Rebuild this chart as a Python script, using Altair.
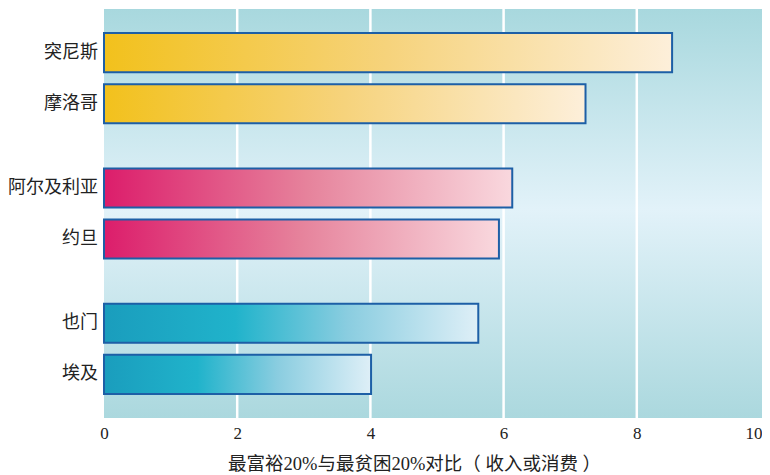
import altair as alt
import pandas as pd

countries = ["突尼斯", "摩洛哥", "阿尔及利亚", "约旦", "也门", "埃及"]
values = [8.53, 7.23, 6.13, 5.93, 5.62, 4.01]
groups = ["g1", "g1", "g2", "g2", "g3", "g3"]
slots = ["a", "b", "a", "b", "a", "b"]
x_ticks = [0, 2, 4, 6, 8, 9.88]
grid_vals = [2, 4, 6, 8]

df = pd.DataFrame({"country": countries, "value": values, "group": groups, "slot": slots})
grid_df = pd.DataFrame({"value": grid_vals})

SERIF = "Liberation Serif, Noto Sans CJK SC"

x_scale = alt.Scale(domain=[0, 9.88], nice=False, zero=True)
y_enc = alt.Y("group:N", scale=alt.Scale(domain=["g1", "g2", "g3"], paddingInner=0.333, paddingOuter=0.178), axis=None)
yoff_enc = alt.YOffset("slot:N", scale=alt.Scale(domain=["a", "b"], paddingInner=0.235, paddingOuter=0))

def grad(stops, vertical=False):
    return alt.Gradient(gradient="linear", x1=0, y1=0, x2=0 if vertical else 1, y2=1 if vertical else 0,
                        stops=[alt.GradientStop(offset=o, color=c) for o, c in stops])

yellow = grad([(0, "#F2C11C"), (0.5, "#F6D37C"), (1, "#FDEFDA")])
pink = grad([(0, "#DC1D6B"), (0.5, "#E6839C"), (1, "#F9D8DE")])
teal = grad([(0, "#1A9DBD"), (0.35, "#20B3CB"), (0.65, "#8ACDE0"), (1, "#DEEFF7")])
bg = grad([(0, "#A8D8DE"), (0.49, "#E2F2F9"), (1, "#ABD8DE")], vertical=True)

x_axis = alt.Axis(values=x_ticks,
                  labelExpr="datum.value > 9 ? '10' : format(datum.value, 'd')",
                  labelAlign=alt.ExprRef("datum.value > 9 ? 'right' : 'center'"),
                  labelFlush=False,
                  title="最富裕20%与最贫困20%对比（ 收入或消费 ）",
                  ticks=False, domain=False, grid=False,
                  labelFont=SERIF, labelFontSize=17, labelColor="#222222",
                  labelPadding=7, titleFont=SERIF, titleFontSize=18.5,
                  titleFontWeight="normal", titleColor="#222222", titlePadding=13,
                  titleX=310)
x_enc = alt.X("value:Q", scale=x_scale, axis=x_axis)

background = alt.Chart(alt.Data(values=[{"k": 1}])).mark_rect(fill=bg).encode(
    x=alt.value(0), x2=alt.value("width"), y=alt.value(0), y2=alt.value("height")
)

grid = alt.Chart(grid_df).mark_rule(color="white", strokeWidth=2.5).encode(x=x_enc)

def bars(g, fill):
    return alt.Chart(df).transform_filter(alt.datum.group == g).mark_bar(
        fill=fill, stroke="#1D5FA6", strokeWidth=2
    ).encode(x=x_enc, y=y_enc, yOffset=yoff_enc)

labels = alt.Chart(df).mark_text(align="right", baseline="middle", dx=-6,
                                 font=SERIF, fontSize=18, color="#222222").encode(
    x=alt.datum(0, scale=x_scale), y=y_enc, yOffset=yoff_enc, text="country:N"
)

chart = alt.layer(background, grid, bars("g1", yellow), bars("g2", pink), bars("g3", teal), labels).properties(
    width=658, height=409,
    autosize=alt.AutoSizeParams(type="none"),
    padding={"left": 96, "top": 1, "right": 0, "bottom": 57},
).configure_view(stroke=None)

chart.save("out.html", embed_options={"renderer": "svg", "actions": False})
